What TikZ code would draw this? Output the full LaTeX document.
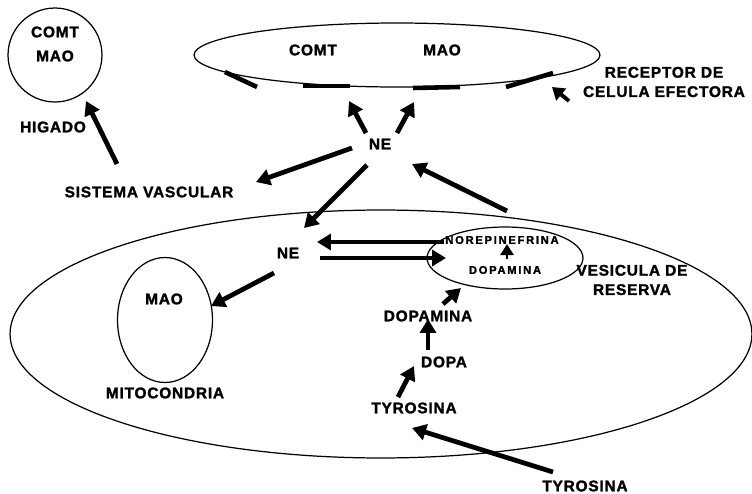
\documentclass[tikz,border=0pt]{standalone}
\usepackage{fontspec}
\setmainfont{Liberation Sans}[LetterSpace=5,FakeBold=1.6]
\usetikzlibrary{arrows.meta,shapes.geometric}
\begin{document}
\begin{tikzpicture}[x=0.02cm,y=-0.02cm,
  lbl/.style={font=\bfseries\fontsize{8.8}{11}\selectfont, inner sep=0pt, align=center},
  slbl/.style={font=\bfseries\fontsize{6.4}{8}\selectfont\addfontfeature{LetterSpace=15}, inner sep=0pt},
  arr/.style={line width=2.7pt, -{Triangle[length=0.28cm,width=0.32cm]}},
  rec/.style={line width=2.6pt},
  outline/.style={draw, line width=0.7pt}]
\useasboundingbox (0,0) rectangle (752,494);
% shapes
\node[outline, circle, minimum size=1.88cm] (liver) at (55,55) {};
\node[outline, ellipse, minimum width=8.12cm, minimum height=1.28cm] (cell) at (397,55) {};
\node[outline, ellipse, minimum width=14.84cm, minimum height=4.96cm] (neuron) at (381,334) {};
\node[outline, ellipse, minimum width=1.9cm, minimum height=2.5cm] (mito) at (165,320) {};
\node[outline, ellipse, minimum width=3.12cm, minimum height=1.24cm] (ves) at (505,258) {};
% receptor bars
\draw[rec] (225,72) -- (257,87);
\draw[rec] (303,86) -- (350,86);
\draw[rec] (413,88) -- (460,87);
\draw[rec] (506,87) -- (553,73);
% texts
\node[lbl] (comt1) at (55,32) {COMT};
\node[lbl] (mao1) at (55,56) {MAO};
\node[lbl] (higado) at (53,127) {HIGADO};
\node[lbl] (sv) at (149,192) {SISTEMA VASCULAR};
\node[lbl] (comt2) at (313,50) {COMT};
\node[lbl] (mao2) at (442,50) {MAO};
\node[lbl] (recep) at (664,82) {RECEPTOR DE\\CELULA EFECTORA};
\node[lbl] (ne1) at (380,144) {NE};
\node[lbl] (ne2) at (288,253) {NE};
\node[lbl] (mao3) at (164,299) {MAO};
\node[lbl] (mitot) at (165,393) {MITOCONDRIA};
\node[slbl] (nore) at (502,240) {NOREPINEFRINA};
\node[slbl] (dopv) at (505,270) {DOPAMINA};
\node[lbl] (vesic) at (632,280) {VESICULA DE\\RESERVA};
\node[lbl] (dopam) at (428,316) {DOPAMINA};
\node[lbl] (dopa) at (444,362) {DOPA};
\node[lbl] (tyr1) at (414,408) {TYROSINA};
\node[lbl] (tyr2) at (585,486) {TYROSINA};
% arrow endpoints
\coordinate (a1s) at (117,164); \coordinate (a1e) at (86,101);
\coordinate (a2s) at (366,133); \coordinate (a2e) at (349,101);
\coordinate (a3s) at (397,133); \coordinate (a3e) at (414,102);
\coordinate (a4s) at (569,101); \coordinate (a4e) at (552,87);
\coordinate (a5s) at (352,148); \coordinate (a5e) at (256,182);
\coordinate (a6s) at (367,165); \coordinate (a6e) at (304,228);
\coordinate (a7s) at (507,211); \coordinate (a7e) at (412,164);
\coordinate (a8s) at (444,242); \coordinate (a8e) at (317,242);
\coordinate (a9s) at (320,258); \coordinate (a9e) at (446,258);
\coordinate (a10s) at (274,273); \coordinate (a10e) at (211,306);
\coordinate (a11s) at (507,259); \coordinate (a11e) at (507,244);
\coordinate (a12s) at (443,304); \coordinate (a12e) at (461,288);
\coordinate (a13s) at (428,350); \coordinate (a13e) at (428,319);
\coordinate (a14s) at (398,397); \coordinate (a14e) at (414,366);
\coordinate (a15s) at (553,472); \coordinate (a15e) at (412,428);
% arrows
\draw[arr] (a1s) -- (a1e);
\draw[arr] (a2s) -- (a2e);
\draw[arr] (a3s) -- (a3e);
\draw[arr, line width=2.2pt, -{Triangle[length=0.24cm,width=0.3cm]}] (a4s) -- (a4e);
\draw[arr] (a5s) -- (a5e);
\draw[arr] (a6s) -- (a6e);
\draw[arr] (a7s) -- (a7e);
\draw[arr] (a8s) -- (a8e);
\draw[arr] (a9s) -- (a9e);
\draw[arr] (a10s) -- (a10e);
\draw[arr, line width=1.4pt, -{Triangle[length=0.22cm,width=0.26cm]}] (a11s) -- (a11e);
\draw[arr] (a12s) -- (a12e);
\draw[arr] (a13s) -- (a13e);
\draw[arr] (a14s) -- (a14e);
\draw[arr] (a15s) -- (a15e);
\end{tikzpicture}
\end{document}
